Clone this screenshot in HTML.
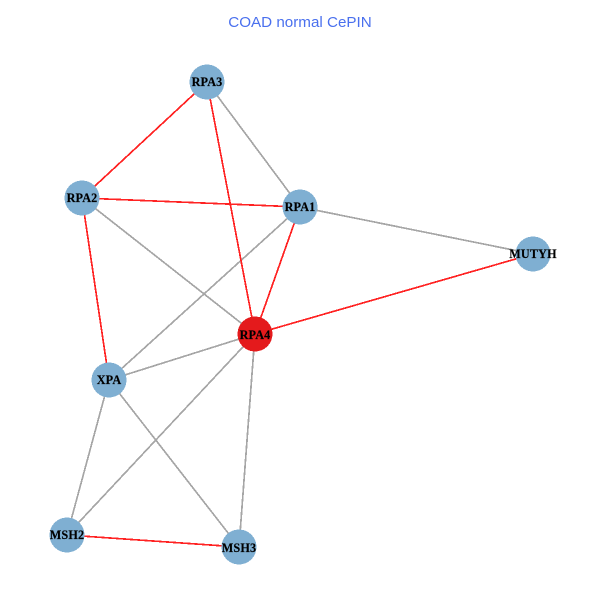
<!DOCTYPE html>
<html>
<head>
<meta charset="utf-8">
<style>
html,body{margin:0;padding:0;background:#fff;width:600px;height:600px;overflow:hidden}
svg{display:block}
line,circle{shape-rendering:crispEdges}
.g{stroke:#a6a6a6;stroke-width:1.7}
.r{stroke:#ff2222;stroke-width:1.7}
.n{font-family:"Liberation Serif",serif;font-weight:bold;font-size:12.2px;letter-spacing:.15px;fill:#000;text-anchor:middle;stroke:#000;stroke-width:.15}
</style>
</head>
<body>
<svg width="600" height="600" viewBox="0 0 600 600" xmlns="http://www.w3.org/2000/svg">
<rect width="600" height="600" fill="#fff"/>
<text x="300" y="27" font-family="'Liberation Sans',sans-serif" font-size="15.2" fill="#4a70ee" text-anchor="middle">COAD normal CePIN</text>
<g>
<line class="g" x1="207" y1="82" x2="300" y2="207"/>
<line class="g" x1="82" y1="198" x2="255" y2="334"/>
<line class="g" x1="300" y1="207" x2="109" y2="380"/>
<line class="g" x1="300" y1="207" x2="533" y2="254"/>
<line class="g" x1="255" y1="334" x2="109" y2="380"/>
<line class="g" x1="255" y1="334" x2="67" y2="535"/>
<line class="g" x1="255" y1="334" x2="239" y2="547"/>
<line class="g" x1="109" y1="380" x2="67" y2="535"/>
<line class="g" x1="109" y1="380" x2="239" y2="547"/>
<line class="r" x1="207" y1="82" x2="82" y2="198"/>
<line class="r" x1="207" y1="82" x2="255" y2="334"/>
<line class="r" x1="82" y1="198" x2="300" y2="207"/>
<line class="r" x1="82" y1="198" x2="109" y2="380"/>
<line class="r" x1="300" y1="207" x2="255" y2="334"/>
<line class="r" x1="255" y1="334" x2="533" y2="254"/>
<line class="r" x1="67" y1="535" x2="239" y2="547"/>
</g>
<g fill="#7fafd2">
<circle cx="207" cy="82" r="17.5"/>
<circle cx="82" cy="198" r="17.5"/>
<circle cx="300" cy="207" r="17.5"/>
<circle cx="533" cy="254" r="17.5"/>
<circle cx="109" cy="380" r="17.5"/>
<circle cx="67" cy="535" r="17.5"/>
<circle cx="239" cy="547" r="17.5"/>
<circle cx="255" cy="334" r="17.5" fill="#e41a1c"/>
</g>
<text class="n" x="207" y="86">RPA3</text>
<text class="n" x="82" y="202">RPA2</text>
<text class="n" x="300" y="211">RPA1</text>
<text class="n" x="533" y="258">MUTYH</text>
<text class="n" x="255" y="339">RPA4</text>
<text class="n" x="109" y="384">XPA</text>
<text class="n" x="67" y="539">MSH2</text>
<text class="n" x="239" y="552">MSH3</text>
</svg>
</body>
</html>
